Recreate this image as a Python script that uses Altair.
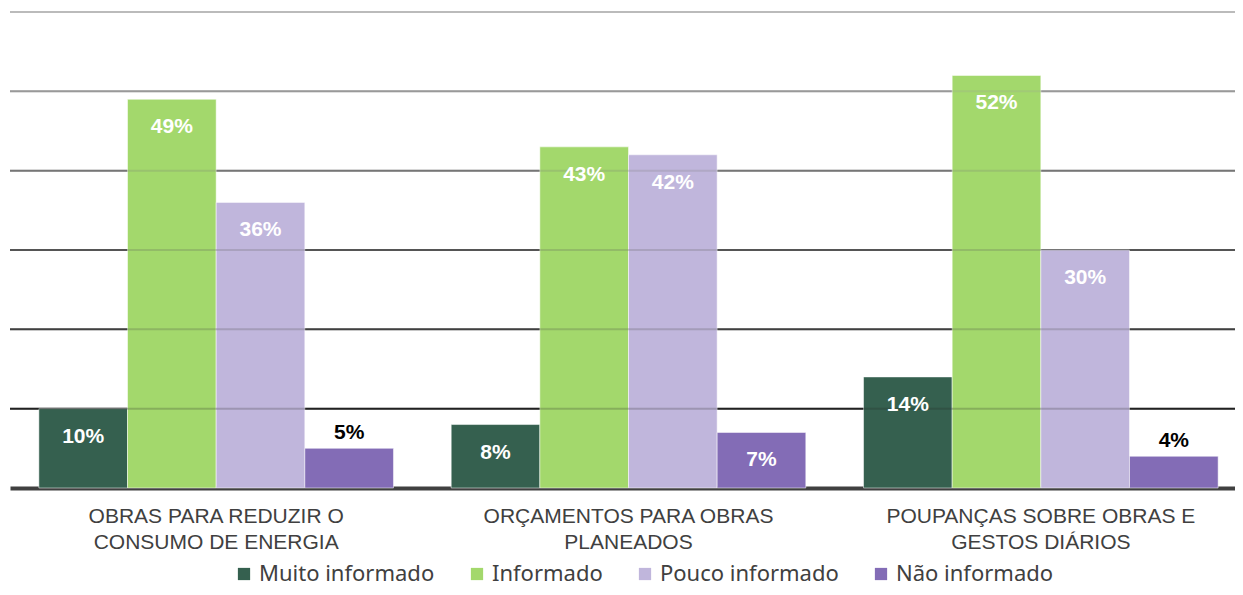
import altair as alt
import pandas as pd

categories = [
    "OBRAS PARA REDUZIR O|CONSUMO DE ENERGIA",
    "ORÇAMENTOS PARA OBRAS|PLANEADOS",
    "POUPANÇAS SOBRE OBRAS E|GESTOS DIÁRIOS",
]
series = ["Muito informado", "Informado", "Pouco informado", "Não informado"]
values = {
    "Muito informado": [10, 8, 14],
    "Informado": [49, 43, 52],
    "Pouco informado": [36, 42, 30],
    "Não informado": [5, 7, 4],
}
colors = ["#35604F", "#A3D86C", "#C0B6DC", "#836CB6"]
grid_values = [10, 20, 30, 40, 50, 60]
grid_colors = ["#222222", "#404040", "#555555", "#777777", "#999999", "#bbbbbb"]

rows = []
for s in series:
    for c, v in zip(categories, values[s]):
        rows.append({"cat": c, "series": s, "value": v, "label": f"{v}%"})
df = pd.DataFrame(rows)
gdf = pd.DataFrame({"g": grid_values})

x_enc = alt.X(
    "cat:N",
    sort=categories,
    title=None,
    scale=alt.Scale(paddingInner=0.14, paddingOuter=0.07),
    axis=alt.Axis(
        labelExpr="split(datum.label, '|')",
        labelAngle=0,
        labelFont="Liberation Sans",
        labelFontSize=21,
        labelColor="#404040",
        labelLineHeight=26,
        labelPadding=17,
        labelLimit=0,
        ticks=False,
        domain=True,
        domainColor="#404040",
        domainWidth=4,
    ),
)
y_scale = alt.Scale(domain=[0, 60], nice=False)
xoff = alt.XOffset("series:N", sort=series, scale=alt.Scale(paddingInner=0, paddingOuter=0))

grid_under = alt.Chart(gdf).mark_rule(strokeWidth=2).encode(
    y=alt.Y("g:Q", scale=y_scale, axis=None),
    stroke=alt.Stroke("g:O", scale=alt.Scale(domain=grid_values, range=grid_colors), legend=None),
)
grid_over = alt.Chart(gdf).mark_rule(strokeWidth=2, opacity=0.22).encode(
    y=alt.Y("g:Q", scale=y_scale, axis=None),
    stroke=alt.Stroke("g:O", scale=alt.Scale(domain=grid_values, range=grid_colors), legend=None),
)

bars = alt.Chart(df).mark_bar(stroke="white", strokeOpacity=0.5, strokeWidth=1).encode(
    x=x_enc,
    xOffset=xoff,
    y=alt.Y("value:Q", scale=y_scale, axis=None),
    color=alt.Color(
        "series:N",
        sort=series,
        scale=alt.Scale(domain=series, range=colors),
        legend=alt.Legend(
            title=None,
            orient="none",
            legendX=223,
            legendY=551,
            direction="horizontal",
            symbolType="square",
            symbolSize=150,
            symbolStrokeWidth=0,
            symbolOpacity=1,
            labelFont="Noto Sans",
            labelFontSize=22,
            labelColor="#404040",
            labelLimit=0,
            columnPadding=31,
            symbolOffset=0,
            labelOffset=4,
        ),
    ),
)

text_in = alt.Chart(df).transform_filter("datum.value >= 6").mark_text(
    font="Liberation Sans", fontWeight="bold", fontSize=21, color="white", dy=28, baseline="middle"
).encode(
    x=alt.X("cat:N", sort=categories),
    xOffset=xoff,
    y=alt.Y("value:Q", scale=y_scale),
    text="label:N",
)
text_out = alt.Chart(df).transform_filter("datum.value < 6").mark_text(
    font="Liberation Sans", fontWeight="bold", fontSize=21, color="black", dy=-15, baseline="middle"
).encode(
    x=alt.X("cat:N", sort=categories),
    xOffset=xoff,
    y=alt.Y("value:Q", scale=y_scale),
    text="label:N",
)

chart = alt.layer(grid_under, bars, grid_over, text_in, text_out).properties(
    width=1237, height=476,
    autosize=alt.AutoSizeParams(type="none"),
    padding={"left": 2, "top": 4, "right": -12, "bottom": 100},
).configure_view(stroke=None)

chart.save("out.html", embed_options={"renderer": "svg", "actions": False})
